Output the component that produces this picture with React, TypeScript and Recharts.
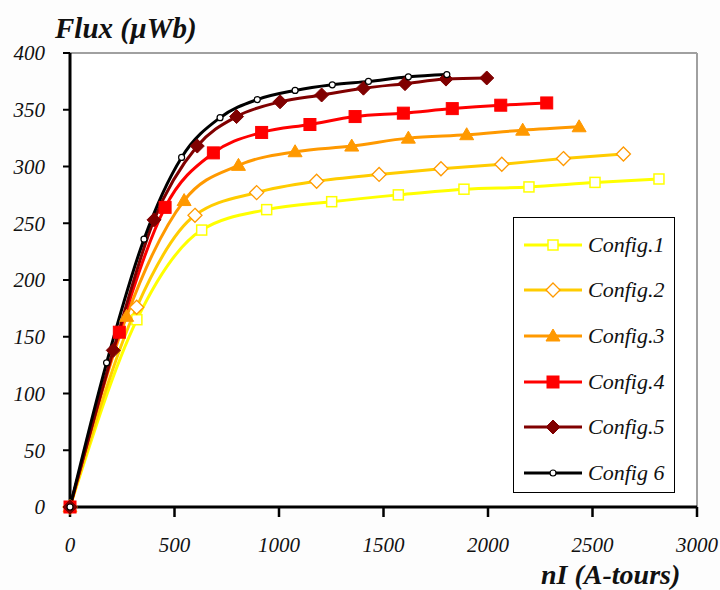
import React from "react";
import { LineChart, Line, XAxis, YAxis, CartesianGrid, ReferenceLine, Legend } from "recharts";

const config1X = [0, 320, 630, 941, 1252, 1571, 1885, 2196, 2512, 2818];
const config1Y = [0, 165, 244, 262, 269, 275, 280, 282, 286, 289];
const config2X = [0, 319, 598, 893, 1180, 1479, 1775, 2066, 2361, 2648];
const config2Y = [0, 176, 257, 277, 287, 293, 298, 302, 307, 311];
const config3X = [0, 271, 546, 806, 1077, 1348, 1619, 1898, 2166, 2436];
const config3Y = [0, 168, 270, 301, 313, 318, 325, 328, 332, 335];
const config4X = [0, 236, 455, 686, 917, 1148, 1364, 1595, 1829, 2061, 2281];
const config4Y = [0, 154, 264, 312, 330, 337, 344, 347, 351, 354, 356];
const config5X = [0, 207, 402, 609, 797, 1005, 1204, 1404, 1603, 1799, 1994];
const config5Y = [0, 138, 253, 318, 344, 357, 363, 369, 373, 377, 378];
const config6X = [0, 175, 354, 534, 718, 896, 1077, 1255, 1428, 1619, 1803];
const config6Y = [0, 127, 236, 308, 343, 359, 367, 372, 375, 379, 381];

const seriesNames = ["Config.1", "Config.2", "Config.3", "Config.4", "Config.5", "Config 6"];
const xTicks = [0, 500, 1000, 1500, 2000, 2500, 3000];
const yTicks = [0, 50, 100, 150, 200, 250, 300, 350, 400];

const toPoints = (xs: number[], ys: number[]) => xs.map((x, i) => ({ x, y: ys[i] }));

const series = [
  { name: seriesNames[0], data: toPoints(config1X, config1Y), color: "#FFFF00", marker: "square-open", markerColor: "#FFFF00" },
  { name: seriesNames[1], data: toPoints(config2X, config2Y), color: "#FFCC00", marker: "diamond-open", markerColor: "#FF9900" },
  { name: seriesNames[2], data: toPoints(config3X, config3Y), color: "#FF9900", marker: "triangle", markerColor: "#FF9900" },
  { name: seriesNames[3], data: toPoints(config4X, config4Y), color: "#FF0000", marker: "square", markerColor: "#FF0000" },
  { name: seriesNames[4], data: toPoints(config5X, config5Y), color: "#800000", marker: "diamond", markerColor: "#800000" },
  { name: seriesNames[5], data: toPoints(config6X, config6Y), color: "#000000", marker: "circle-open", markerColor: "#000000" },
];

const Marker = ({ type, color, cx, cy }: { type: string; color: string; cx: number; cy: number }) => {
  switch (type) {
    case "square-open":
      return <rect x={cx - 5} y={cy - 5} width={10} height={10} fill="#fff" stroke={color} strokeWidth={1.5} />;
    case "diamond-open":
      return (
        <polygon
          points={`${cx},${cy - 7} ${cx + 7},${cy} ${cx},${cy + 7} ${cx - 7},${cy}`}
          fill="#fff"
          stroke={color}
          strokeWidth={1.3}
        />
      );
    case "triangle":
      return <polygon points={`${cx},${cy - 7} ${cx + 7},${cy + 5} ${cx - 7},${cy + 5}`} fill={color} stroke={color} />;
    case "square":
      return <rect x={cx - 6} y={cy - 6} width={12} height={12} fill={color} stroke={color} />;
    case "diamond":
      return (
        <polygon
          points={`${cx},${cy - 7} ${cx + 7},${cy} ${cx},${cy + 7} ${cx - 7},${cy}`}
          fill={color}
          stroke={color}
        />
      );
    case "circle-open":
    default:
      return <circle cx={cx} cy={cy} r={3} fill="#fff" stroke={color} strokeWidth={1.2} />;
  }
};

const fontFamily = "'Liberation Serif', 'Times New Roman', serif";

const LegendContent = () => (
  <div
    style={{
      width: 162,
      height: 276,
      background: "#fff",
      border: "1.5px solid #000",
      boxSizing: "border-box",
      paddingTop: 4,
    }}
  >
    {series.map((s) => (
      <div key={s.name} style={{ display: "flex", alignItems: "center", height: 45.6 }}>
        <svg width={74} height={20} style={{ flex: "none" }}>
          <line x1={10} y1={10} x2={68} y2={10} stroke={s.color} strokeWidth={3} />
          <Marker type={s.marker} color={s.markerColor} cx={39} cy={10} />
        </svg>
        <span style={{ fontFamily, fontStyle: "italic", fontSize: 22, color: "#111", lineHeight: 1 }}>{s.name}</span>
      </div>
    ))}
  </div>
);

export default function App() {
  return (
    <div style={{ position: "absolute", left: 0, top: 0, width: 720, height: 590, background: "#fdfdfd" }}>
      <LineChart width={720} height={590} margin={{ top: 53, right: 23, bottom: 43, left: 0 }}>
        <rect x={70} y={53} width={627} height={454} fill="#fff" />
        <CartesianGrid vertical={false} stroke="#000" strokeDasharray="8 5" strokeWidth={1.5} />
        <XAxis
          type="number"
          dataKey="x"
          domain={[0, 3000]}
          ticks={xTicks}
          interval={0}
          allowDuplicatedCategory={false}
          height={40}
          axisLine={{ stroke: "#000", strokeWidth: 3 }}
          tickLine={{ stroke: "#000", strokeWidth: 2.5 }}
          tickSize={10}
          tickMargin={20}
          tick={{ fill: "#111", fontFamily, fontStyle: "italic", fontSize: 21 }}
        />
        <YAxis
          type="number"
          dataKey="y"
          domain={[0, 400]}
          ticks={yTicks}
          interval={0}
          width={70}
          axisLine={{ stroke: "#000", strokeWidth: 3 }}
          tickLine={{ stroke: "#000", strokeWidth: 2 }}
          tickSize={7}
          tickMargin={18}
          tick={{ fill: "#111", fontFamily, fontStyle: "italic", fontSize: 21 }}
        />
        <ReferenceLine y={400} stroke="#a0a0a0" strokeWidth={2} />
        <ReferenceLine x={3000} stroke="#a0a0a0" strokeWidth={2} />
        {series.map((s) => (
          <Line
            key={s.name}
            data={s.data}
            dataKey="y"
            name={s.name}
            type="monotone"
            stroke={s.color}
            strokeWidth={3}
            isAnimationActive={false}
            dot={(p: any) => (
              <Marker key={`${s.name}-${p.index}`} type={s.marker} color={s.markerColor} cx={p.cx} cy={p.cy} />
            )}
            activeDot={false}
          />
        ))}
        <Legend
          content={<LegendContent />}
          layout="vertical"
          verticalAlign="middle"
          align="center"
          wrapperStyle={{ left: 513, top: 217, width: 162, height: 276 }}
        />
        <text x={55} y={38} fontFamily={fontFamily} fontStyle="italic" fontWeight="bold" fontSize={29} fill="#111">
          Flux (µWb)
        </text>
        <text x={541} y={584} fontFamily={fontFamily} fontStyle="italic" fontWeight="bold" fontSize={28} fill="#111">
          nI (A-tours)
        </text>
      </LineChart>
    </div>
  );
}
